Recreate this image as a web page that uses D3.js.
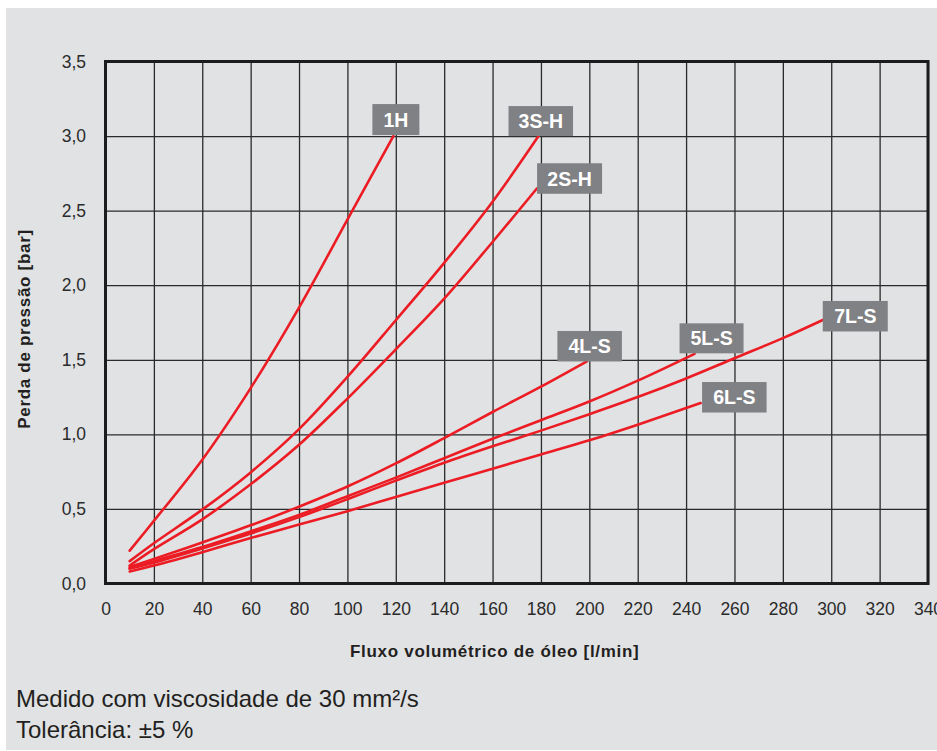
<!DOCTYPE html>
<html>
<head>
<meta charset="utf-8">
<script src="https://cdn.jsdelivr.net/npm/d3@7"></script>
<style>
  html, body { margin: 0; padding: 0; background: #ffffff; }
  svg { display: block; font-family: "Liberation Sans", Arial, Helvetica, sans-serif; }
</style>
</head>
<body>
<svg id="chart" width="937" height="751"></svg>
<script>
// Pressure loss curves per filter element (flow in l/min, pressure loss in bar)
const seriesNames = ["1H", "3S-H", "2S-H", "4L-S", "5L-S", "6L-S", "7L-S"];

const flow1H = [10, 20, 40, 60, 80, 100, 119];
const loss1H = [0.22, 0.42, 0.83, 1.31, 1.85, 2.44, 3.0];

const flow3SH = [10, 20, 40, 60, 80, 100, 120, 140, 160, 179];
const loss3SH = [0.15, 0.27, 0.495, 0.745, 1.035, 1.385, 1.765, 2.15, 2.56, 3.0];

const flow2SH = [10, 20, 40, 60, 80, 100, 120, 140, 160, 178.4];
const loss2SH = [0.12, 0.23, 0.43, 0.665, 0.93, 1.24, 1.57, 1.91, 2.29, 2.65];

const flow4LS = [10, 20, 40, 60, 80, 100, 120, 140, 160, 180, 199];
const loss4LS = [0.11, 0.165, 0.275, 0.39, 0.515, 0.65, 0.805, 0.975, 1.15, 1.32, 1.49];

const flow5LS = [10, 20, 40, 60, 80, 100, 120, 140, 160, 180, 200, 220, 243.5];
const loss5LS = [0.10, 0.15, 0.245, 0.35, 0.46, 0.585, 0.71, 0.84, 0.97, 1.095, 1.22, 1.36, 1.54];

const flow6LS = [10, 20, 40, 60, 80, 100, 120, 140, 160, 180, 200, 220, 246];
const loss6LS = [0.08, 0.12, 0.21, 0.305, 0.395, 0.485, 0.58, 0.675, 0.77, 0.865, 0.96, 1.065, 1.21];

const flow7LS = [10, 20, 40, 60, 80, 100, 120, 140, 160, 180, 200, 220, 240, 260, 280, 296.5];
const loss7LS = [0.10, 0.14, 0.235, 0.335, 0.445, 0.565, 0.69, 0.81, 0.92, 1.025, 1.135, 1.25, 1.375, 1.51, 1.645, 1.767];

const xTickValues = [0, 20, 40, 60, 80, 100, 120, 140, 160, 180, 200, 220, 240, 260, 280, 300, 320, 340];
const yTickValues = [0, 0.5, 1.0, 1.5, 2.0, 2.5, 3.0, 3.5];
const yTickLabels = ["0,0", "0,5", "1,0", "1,5", "2,0", "2,5", "3,0", "3,5"];

const xTitle = "Fluxo volumétrico de óleo [l/min]";
const yTitle = "Perda de pressão [bar]";
const noteLines = ["Medido com viscosidade de 30 mm²/s", "Tolerância: ±5 %"];

const flows = [flow1H, flow3SH, flow2SH, flow4LS, flow5LS, flow6LS, flow7LS];
const losses = [loss1H, loss3SH, loss2SH, loss4LS, loss5LS, loss6LS, loss7LS];
const series = seriesNames.map((name, i) => ({
  name,
  points: flows[i].map((f, j) => [f, losses[i][j]])
}));

// Tag box placement relative to each curve's end point (box top-left offset and size)
const tagLayout = {
  "1H":   { dx: -21,   dy: -32,   w: 47,   h: 31 },
  "3S-H": { dx: -30,   dy: -30,   w: 64.5, h: 30 },
  "2S-H": { dx: 0,     dy: -25,   w: 65,   h: 30.5 },
  "4L-S": { dx: -29.5, dy: -30.3, w: 64.5, h: 30.5 },
  "5L-S": { dx: -15,   dy: -30.5, w: 64,   h: 30 },
  "6L-S": { dx: 1.5,   dy: -21,   w: 64.5, h: 30.5 },
  "7L-S": { dx: 0,     dy: -19,   w: 65,   h: 30.5 }
};

const svg = d3.select("#chart");
const W = 937, H = 751;

// panel background
svg.append("rect").attr("x", 0).attr("y", 0).attr("width", W).attr("height", H).attr("fill", "#ffffff");
svg.append("rect").attr("x", 6).attr("y", 8).attr("width", W - 6).attr("height", 742).attr("fill", "#e1e2e4");

const x = d3.scaleLinear().domain([0, 340]).range([105.5, 928]);
const y = d3.scaleLinear().domain([0, 3.5]).range([583.5, 61.5]);
const plotLeft = x(0), plotRight = x(340), plotTop = y(3.5), plotBottom = y(0);

// grid + tick labels via axes
const xAxis = d3.axisBottom(x)
  .tickValues(xTickValues)
  .tickSize(-(plotBottom - plotTop))
  .tickPadding(19.5)
  .tickFormat(d => String(d));

const yAxis = d3.axisLeft(y)
  .tickValues(yTickValues)
  .tickSize(-(plotRight - plotLeft))
  .tickPadding(19.5)
  .tickFormat((d, i) => yTickLabels[i]);

const gx = svg.append("g").attr("transform", `translate(0,${plotBottom})`).call(xAxis);
const gy = svg.append("g").attr("transform", `translate(${plotLeft},0)`).call(yAxis);

[gx, gy].forEach(g => {
  g.select(".domain").remove();
  g.selectAll(".tick line").attr("stroke", "#2a2a2a").attr("stroke-width", 1.3);
  g.selectAll(".tick text")
    .attr("fill", "#2b2b2b")
    .attr("font-size", 17.5)
    .attr("font-family", "\"Liberation Sans\", Arial, sans-serif");
});

// plot frame
svg.append("rect")
  .attr("x", plotLeft).attr("y", plotTop)
  .attr("width", plotRight - plotLeft).attr("height", plotBottom - plotTop)
  .attr("fill", "none").attr("stroke", "#1c1c1c").attr("stroke-width", 3);

// curves
const line = d3.line()
  .x(d => x(d[0]))
  .y(d => y(d[1]))
  .curve(d3.curveCatmullRom.alpha(0.5));

svg.append("g").selectAll("path")
  .data(series)
  .join("path")
  .attr("d", d => line(d.points))
  .attr("fill", "none")
  .attr("stroke", "#ec1c24")
  .attr("stroke-width", 2.6)
  .attr("stroke-linecap", "round");

// name tags at curve ends
const tags = svg.append("g").selectAll("g")
  .data(series)
  .join("g")
  .attr("transform", d => {
    const end = d.points[d.points.length - 1];
    const t = tagLayout[d.name];
    return `translate(${x(end[0]) + t.dx},${y(end[1]) + t.dy})`;
  });

tags.append("rect")
  .attr("width", d => tagLayout[d.name].w)
  .attr("height", d => tagLayout[d.name].h)
  .attr("fill", "#808184");

tags.append("text")
  .attr("x", d => tagLayout[d.name].w / 2)
  .attr("y", d => tagLayout[d.name].h / 2 + 7)
  .attr("text-anchor", "middle")
  .attr("fill", "#ffffff")
  .attr("font-weight", "bold")
  .attr("font-size", 19.5)
  .text(d => d.name);

// axis titles
svg.append("text")
  .attr("x", (plotLeft + plotRight) / 2 - 22)
  .attr("y", 657)
  .attr("text-anchor", "middle")
  .attr("font-weight", "bold")
  .attr("font-size", 17)
  .attr("letter-spacing", 0.7)
  .attr("fill", "#231f20")
  .text(xTitle);

svg.append("text")
  .attr("transform", "translate(30,329) rotate(-90)")
  .attr("text-anchor", "middle")
  .attr("font-weight", "bold")
  .attr("font-size", 17)
  .attr("letter-spacing", 0.7)
  .attr("fill", "#231f20")
  .text(yTitle);

// notes under the chart
svg.append("g").selectAll("text")
  .data(noteLines)
  .join("text")
  .attr("x", 16)
  .attr("y", (d, i) => 706.5 + i * 31)
  .attr("font-size", 24)
  .attr("fill", "#231f20")
  .text(d => d);
</script>
</body>
</html>
